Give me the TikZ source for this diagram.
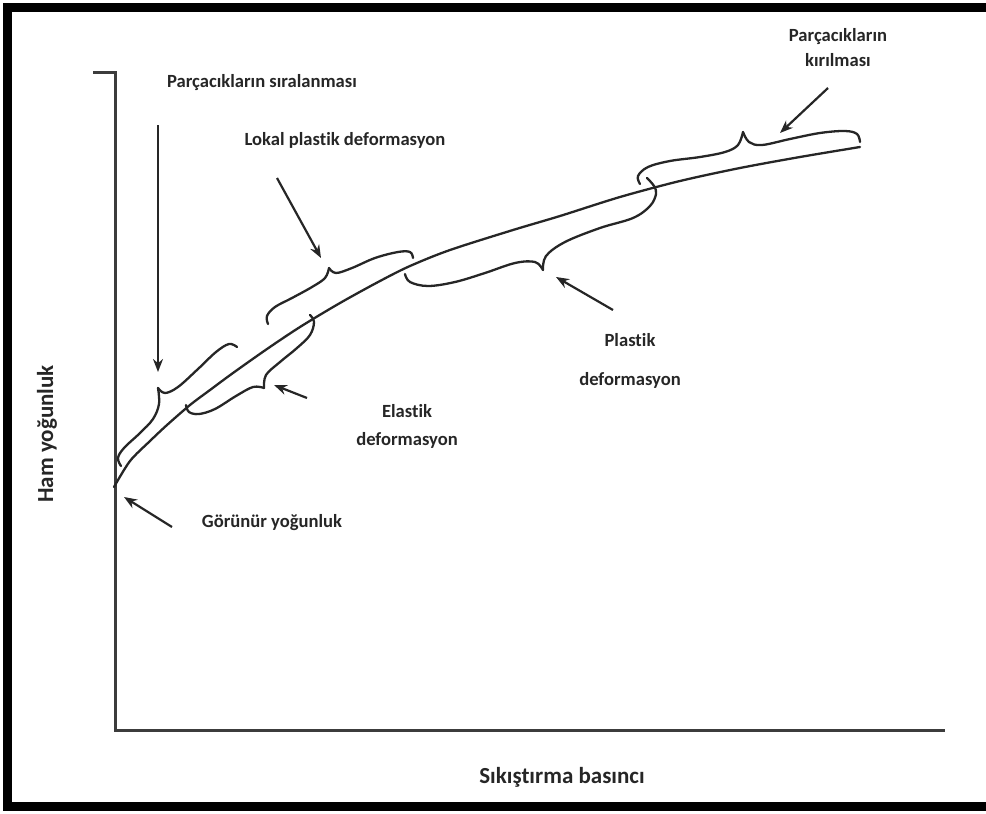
\documentclass[tikz,border=0pt]{standalone}
\usepackage{fontspec}
\setmainfont{Carlito}[Ligatures=NoCommon]
\usetikzlibrary{arrows.meta}

\definecolor{ink}{HTML}{262626}
\tikzset{
  lbl/.style={font=\bfseries\fontsize{18.6}{22}\selectfont, text=ink, inner sep=0pt, align=center},
  axlbl/.style={font=\bfseries\fontsize{23}{26}\selectfont, text=ink, inner sep=0pt},
  pen/.style={draw=ink, line width=2.3pt, line cap=round, line join=round},
  axis/.style={draw=ink!90, line width=3pt},
  ptr/.style={draw=ink, line width=2.2pt, -{Stealth[length=13pt,width=10pt]}},
}

\begin{document}
\begin{tikzpicture}[x=1pt,y=-1pt]
\useasboundingbox (0,0) rectangle (986,814);

% frame
\fill (3,3) rectangle (986,12);
\fill (3,3) rectangle (12,811);
\fill (3,802) rectangle (986,811);

% axes
\coordinate (tick) at (93,72);
\coordinate (top) at (115,72);
\coordinate (o) at (115,730);
\coordinate (xend) at (945,730);
\draw[axis] (tick) -- (top) -- (o) -- (xend);

\node[axlbl] (xl) at (562,777) {Sıkıştırma basıncı};
\node[axlbl, rotate=90] (yl) at (47,434) {Ham yoğunluk};

% density curve
\draw[pen] plot[smooth] coordinates {(114,487) (130,461) (150,441) (167,425)
  (190,405) (210,390) (233,373) (267,349) (300,327) (340,303) (380,281)
  (410,266) (450,250) (513,230) (560,216) (620,197) (680,181) (740,168)
  (800,157) (860,147)};

% braces
\draw[pen] plot[smooth, tension=0.6] coordinates {(121,466) (118,458) (124,448)
  (140,433) (153,419) (159,404) (158,388)};
\draw[pen] plot[smooth, tension=0.6] coordinates {(158,388) (165,393) (178,387)
  (198,369) (216,352) (229,344) (237,347)};

\draw[pen] plot[smooth, tension=0.6] coordinates {(186,405) (189,412) (199,414)
  (215,409) (236,396) (253,387) (264,388)};
\draw[pen] plot[smooth, tension=0.6] coordinates {(264,388) (266,375) (280,362)
  (297,348) (310,335) (314,322) (310,315)};

\draw[pen] plot[smooth, tension=0.6] coordinates {(268,324) (267,316) (275,307)
  (292,298) (312,287) (325,278) (329,268)};
\draw[pen] plot[smooth, tension=0.6] coordinates {(329,268) (336,273) (352,268)
  (375,258) (398,252) (410,252) (413,258)};

\draw[pen] plot[smooth, tension=0.6] coordinates {(405,274) (410,282) (428,286)
  (455,282) (485,273) (515,263) (535,262) (543,270)};
\draw[pen] plot[smooth, tension=0.6] coordinates {(543,270) (546,256) (565,242)
  (600,228) (633,218) (650,206) (656,194) (654,186) (647,178)};

\draw[pen] plot[smooth, tension=0.6] coordinates {(640,184) (638,176) (648,167)
  (670,161) (700,157) (725,152) (738,145) (743,132)};
\draw[pen] plot[smooth, tension=0.6] coordinates {(743,132) (749,142) (762,145)
  (790,139) (820,133) (845,131) (857,134) (860,142)};

% labels
\node[lbl] (sira) at (262,83) {Parçacıkların sıralanması};
\node[lbl] (lokal) at (345,140) {Lokal plastik deformasyon};
\node[lbl] (kirilma) at (838,48) {Parçacıkların\\[3pt]kırılması};
\node[lbl] (plastik) at (630,361) {Plastik\\[17pt]deformasyon};
\node[lbl] (elastik) at (407,426) {Elastik\\[6pt]deformasyon};
\node[lbl] (gorunur) at (272,523) {Görünür yoğunluk};

% pointers
\coordinate (a1) at (158,125);  \coordinate (b1) at (158,372);
\coordinate (a2) at (277,178);  \coordinate (b2) at (321,258);
\coordinate (a3) at (307,398);  \coordinate (b3) at (274,385);
\coordinate (a4) at (613,310);  \coordinate (b4) at (556,277);
\coordinate (a5) at (828,88);   \coordinate (b5) at (780,133);
\coordinate (a6) at (172,527);  \coordinate (b6) at (124,497);
\draw[ptr] (a1) -- (b1);
\draw[ptr] (a2) -- (b2);
\draw[ptr] (a3) -- (b3);
\draw[ptr] (a4) -- (b4);
\draw[ptr] (a5) -- (b5);
\draw[ptr] (a6) -- (b6);
\end{tikzpicture}
\end{document}
